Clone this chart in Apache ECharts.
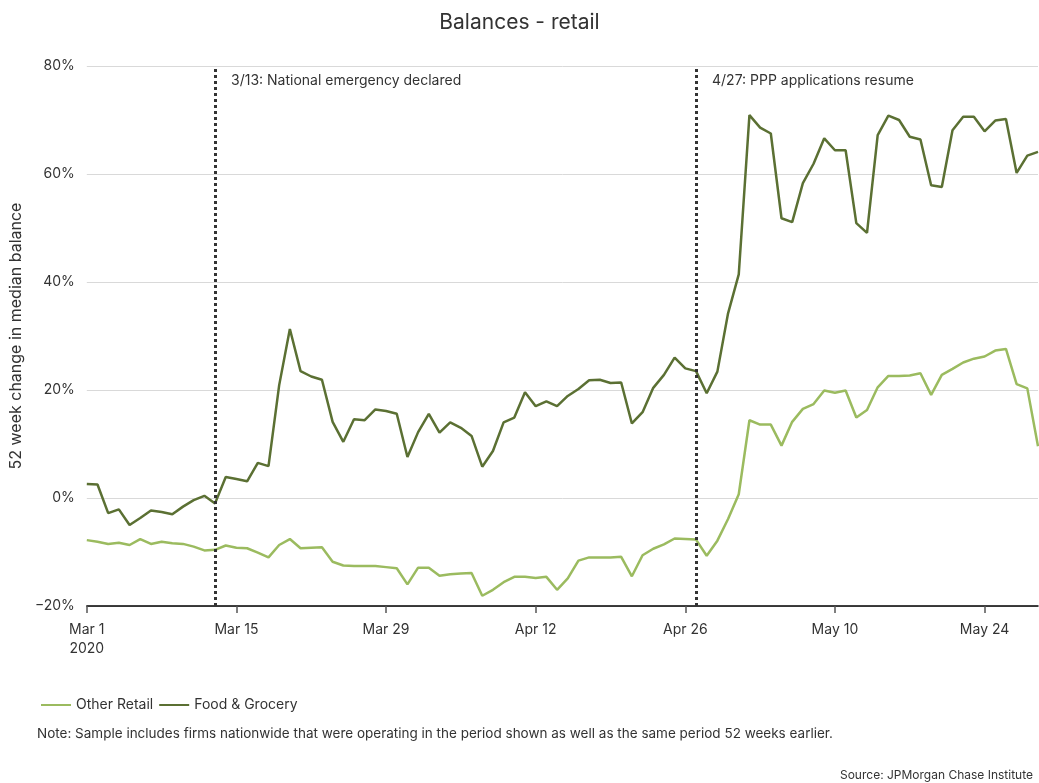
<!DOCTYPE html>
<html>
<head>
<meta charset="utf-8">
<script src="https://cdn.jsdelivr.net/npm/echarts@6/dist/echarts.min.js"></script>
<style>
  html, body { margin: 0; padding: 0; background: #fff; }
  #chart { width: 1039px; height: 783px; }
</style>
</head>
<body>
<div id="chart"></div>
<script>
// daily dates Mar 1 - May 29, 2020
const monthNames = ['Mar', 'Apr', 'May'];
const monthDays = [31, 30, 29];
const dates = [];
monthNames.forEach(function (m, i) {
  for (let d = 1; d <= monthDays[i]; d++) dates.push(m + ' ' + d);
});

// 52 week change in median balance (%)
const otherRetail = [
  -7.8, -8.1, -8.5, -8.3, -8.7, -7.6, -8.5, -8.1, -8.4, -8.5,
  -9.0, -9.7, -9.6, -8.8, -9.2, -9.3, -10.1, -11.0, -8.7, -7.6,
  -9.3, -9.2, -9.1, -11.8, -12.5, -12.6, -12.6, -12.6, -12.8, -13.0,
  -16.0, -12.9, -12.9, -14.4, -14.1, -14.0, -13.9, -18.1, -17.0, -15.6,
  -14.6, -14.6, -14.8, -14.6, -17.0, -14.9, -11.6, -11.0, -11.0, -11.0,
  -10.9, -14.5, -10.6, -9.4, -8.6, -7.5, -7.6, -7.7, -10.7, -7.9,
  -3.9, 0.7, 14.4, 13.6, 13.6, 9.7, 14.1, 16.5, 17.4, 19.9,
  19.5, 19.9, 14.9, 16.3, 20.5, 22.6, 22.6, 22.7, 23.1, 19.1,
  22.8, 23.9, 25.1, 25.8, 26.2, 27.3, 27.6, 21.1, 20.3, 9.6
];
const foodGrocery = [
  2.6, 2.5, -2.8, -2.1, -5.0, -3.7, -2.3, -2.6, -3.0, -1.6,
  -0.4, 0.4, -1.0, 3.9, 3.5, 3.1, 6.5, 5.9, 20.9, 31.3,
  23.5, 22.5, 21.9, 14.1, 10.4, 14.6, 14.4, 16.4, 16.1, 15.6,
  7.6, 12.2, 15.6, 12.1, 14.0, 13.0, 11.5, 5.8, 8.7, 14.0,
  14.9, 19.6, 17.0, 17.9, 17.0, 18.9, 20.2, 21.8, 21.9, 21.3,
  21.4, 13.8, 15.9, 20.4, 22.8, 26.0, 24.0, 23.5, 19.4, 23.4,
  34.2, 41.4, 70.9, 68.6, 67.5, 51.8, 51.1, 58.3, 61.9, 66.6,
  64.4, 64.4, 50.9, 49.1, 67.2, 70.8, 70.0, 66.9, 66.4, 57.9,
  57.6, 68.1, 70.6, 70.6, 67.9, 69.9, 70.2, 60.2, 63.4, 64.1
];

const events = [
  { date: 'Mar 13', text: '3/13: National emergency declared' },
  { date: 'Apr 27', text: '4/27: PPP applications resume' }
];
const yTicks = { min: -20, max: 80, interval: 20 };

const fontFamily = 'Inter, Roboto, sans-serif';
const chart = echarts.init(document.getElementById('chart'));

chart.setOption({
  animation: false,
  textStyle: { fontFamily: fontFamily },
  title: {
    text: 'Balances - retail',
    left: 'center',
    top: 7,
    textStyle: { fontSize: 21, fontWeight: 'normal', color: '#333', fontFamily: fontFamily }
  },
  legend: {
    left: 36,
    top: 693,
    itemWidth: 30,
    itemHeight: 2,
    itemGap: 6,
    icon: 'rect',
    textStyle: { fontSize: 14, color: '#333' },
    data: ['Other Retail', 'Food & Grocery']
  },
  grid: { left: 85, right: 1, top: 66, bottom: 177 },
  xAxis: {
    type: 'category',
    data: dates,
    boundaryGap: false,
    axisLine: { onZero: false, lineStyle: { color: '#000', width: 1.5 } },
    axisTick: { interval: 13, length: 7, lineStyle: { color: '#555', width: 1.5 } },
    axisLabel: {
      interval: 13,
      margin: 14,
      fontSize: 14,
      color: '#333',
      lineHeight: 19,
      formatter: function (v, i) { return i === 0 ? v + '\n2020' : v; }
    },
    splitLine: { show: false }
  },
  yAxis: {
    type: 'value',
    min: yTicks.min,
    max: yTicks.max,
    interval: yTicks.interval,
    name: '52 week change in median balance',
    nameLocation: 'middle',
    nameGap: 60,
    nameTextStyle: { fontSize: 16, color: '#333' },
    axisLine: { show: false },
    axisTick: { show: false },
    axisLabel: {
      fontSize: 14,
      color: '#333',
      margin: 12,
      formatter: function (v) { return (v < 0 ? '\u2212' + Math.abs(v) : v) + '%'; }
    },
    splitLine: { lineStyle: { color: '#d9d9d9', width: 1 } }
  },
  series: [
    {
      name: 'Other Retail',
      type: 'line',
      data: otherRetail,
      symbol: 'none',
      color: '#9bbb5f',
      lineStyle: { width: 2.5, color: '#9bbb5f' },
      z: 3
    },
    {
      name: 'Food & Grocery',
      type: 'line',
      data: foodGrocery,
      symbol: 'none',
      color: '#5b7033',
      lineStyle: { width: 2.5, color: '#5b7033' },
      z: 4,
      markLine: {
        silent: true,
        symbol: 'none',
        lineStyle: { color: '#333', type: 'dotted', width: 3 },
        label: { show: false },
        data: events.map(function (e) { return { xAxis: e.date }; })
      },
      markPoint: {
        silent: true,
        symbol: 'rect',
        symbolSize: 0,
        label: {
          show: true,
          position: 'right',
          distance: 16,
          offset: [0, 15],
          color: '#333',
          fontSize: 14,
          formatter: function (p) { return p.name; }
        },
        data: events.map(function (e) { return { name: e.text, coord: [e.date, yTicks.max] }; })
      }
    }
  ]
});
</script>
<div style="position:absolute;left:37px;top:725px;font:13.5px Inter, Roboto, sans-serif;color:#333;">Note: Sample includes firms nationwide that were operating in the period shown as well as the same period 52 weeks earlier.</div>
<div style="position:absolute;right:6px;top:767px;font:12px Inter, Roboto, sans-serif;color:#333;">Source: JPMorgan Chase Institute</div>
</body>
</html>
